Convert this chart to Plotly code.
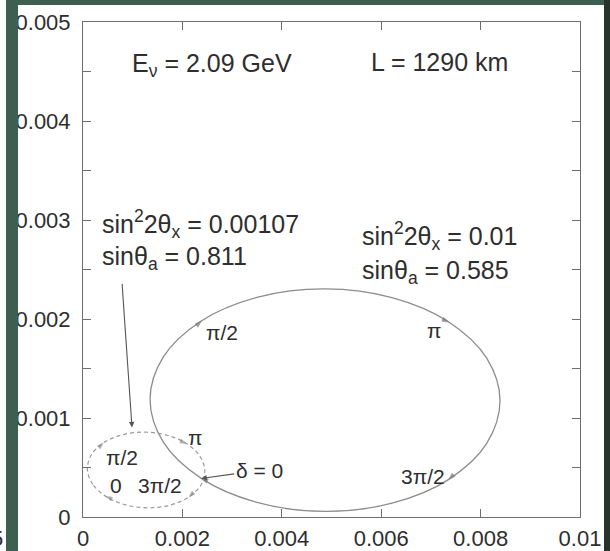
import plotly.graph_objects as go

# Appearance probabilities traced over the CP phase delta (units of 1e-3),
# sampled every pi/8 starting at delta = 0 and closing back on delta = 2*pi.
large_x = [2.380, 1.617, 1.349, 1.617, 2.380, 3.522, 4.870, 6.218, 7.360,
           8.123, 8.391, 8.123, 7.360, 6.218, 4.870, 3.522, 2.380]
large_y = [0.390, 0.756, 1.187, 1.617, 1.980, 2.221, 2.304, 2.216, 1.970,
           1.604, 1.173, 0.743, 0.380, 0.139, 0.056, 0.144, 0.390]
small_x = [0.470, 0.198, 0.089, 0.160, 0.400, 0.772, 1.221, 1.676, 2.070,
           2.342, 2.451, 2.380, 2.140, 1.768, 1.320, 0.864, 0.470]
small_y = [0.205, 0.329, 0.475, 0.621, 0.745, 0.828, 0.857, 0.828, 0.745,
           0.621, 0.475, 0.329, 0.205, 0.122, 0.093, 0.122, 0.205]

# indices of delta = 0, pi/2, pi, 3pi/2 in the sampled curves
phase_index = [16, 4, 8, 12]
phase_labels = ["0", "π/2", "π", "3π/2"]

x_ticks = [0, 0.002, 0.004, 0.006, 0.008, 0.01]
x_tick_labels = ["0", "0.002", "0.004", "0.006", "0.008", "0.01"]
y_ticks = [0, 0.001, 0.002, 0.003, 0.004, 0.005]
y_tick_labels = ["0", "0.001", "0.002", "0.003", "0.004", "0.005"]
y_minor_ticks = [0.0005, 0.0015, 0.0025, 0.0035, 0.0045]

SCALE = 1e-3
FONT = "Liberation Sans, Arial, Helvetica, sans-serif"
TEXT = "#2e2e2e"
AXIS = "#6e6e6e"

W, H = 610, 551
L, R, T, B = 83, 30, 22, 34
PW, PH = W - L - R, H - T - B


def px(xp):
    return (xp - L) / PW


def py(yp):
    return (H - B - yp) / PH


def marker_sizes(n, size):
    s = [0] * n
    for i in phase_index:
        s[i] = size
    return s


fig = go.Figure()

fig.add_trace(go.Scatter(
    x=[v * SCALE for v in large_x], y=[v * SCALE for v in large_y],
    mode="lines+markers", line=dict(color="#8c8c8c", width=1.3, shape="spline"),
    marker=dict(symbol="arrow", angleref="previous", color="#707070",
                size=marker_sizes(len(large_x), 7)),
    showlegend=False, hoverinfo="skip"))

fig.add_trace(go.Scatter(
    x=[v * SCALE for v in small_x], y=[v * SCALE for v in small_y],
    mode="lines+markers",
    line=dict(color="#9a9a9a", width=1.2, shape="spline", dash="4px,3px"),
    marker=dict(symbol="arrow", angleref="previous", color="#808080",
                size=marker_sizes(len(small_x), 6)),
    showlegend=False, hoverinfo="skip"))

annotations = []

# phase labels next to the marked points
large_shift = {"π/2": (21, -12), "π": (-14, -9), "3π/2": (-26, 3)}
small_shift = {"0": (10, 11), "π/2": (19, -14), "π": (10, 6), "3π/2": (-29, 11)}
for lab, i in zip(phase_labels, phase_index):
    if lab in large_shift:
        dx, dy = large_shift[lab]
        annotations.append(dict(x=large_x[i] * SCALE, y=large_y[i] * SCALE,
                                text=lab, showarrow=False, xshift=dx, yshift=dy,
                                font=dict(size=21, color=TEXT, family=FONT)))
    dx, dy = small_shift[lab]
    annotations.append(dict(x=small_x[i] * SCALE, y=small_y[i] * SCALE,
                            text=lab, showarrow=False, xshift=dx, yshift=dy,
                            font=dict(size=21, color=TEXT, family=FONT)))

# delta = 0 pointer on the large curve
annotations.append(dict(x=large_x[0] * SCALE, y=large_y[0] * SCALE,
                        text="δ = 0", showarrow=True, ax=58, ay=-8,
                        arrowhead=2, arrowsize=1, arrowwidth=1.1, arrowcolor="#555",
                        font=dict(size=21, color=TEXT, family=FONT)))

# pointer from the first parameter set down to the small curve
annotations.append(dict(x=0.986 * SCALE, y=0.905 * SCALE, text="",
                        showarrow=True, ax=-10, ay=-145,
                        arrowhead=2, arrowsize=1, arrowwidth=1.1, arrowcolor="#555"))

big = dict(size=25, color=TEXT, family=FONT)
for text, xl, yc in [
    ("E<sub>ν</sub> = 2.09 GeV", 130, 65),
    ("L = 1290 km", 369, 62),
    ("sin<sup>2</sup>2θ<sub>x</sub> = 0.00107", 100, 224),
    ("sinθ<sub>a</sub> = 0.811", 100, 258),
    ("sin<sup>2</sup>2θ<sub>x</sub> = 0.01", 360, 236),
    ("sinθ<sub>a</sub> = 0.585", 360, 272),
]:
    annotations.append(dict(xref="paper", yref="paper", x=px(xl), y=py(yc),
                            xanchor="left", yanchor="middle", text=text,
                            showarrow=False, font=big))

# clipped glyph at the lower-left edge
annotations.append(dict(xref="paper", yref="paper", x=px(5), y=py(538),
                        xanchor="right", yanchor="middle", text="5",
                        showarrow=False, font=dict(size=22, color=TEXT, family=FONT)))

# dark frame strips around the slide
GREEN = "#3c5f51"
shapes = [
    dict(type="rect", xref="paper", yref="paper", layer="above",
         x0=px(6), x1=px(18), y0=py(H + 5), y1=py(-5),
         fillcolor=GREEN, line=dict(width=0)),
    dict(type="rect", xref="paper", yref="paper", layer="above",
         x0=px(6), x1=px(W + 5), y0=py(5), y1=py(-5),
         fillcolor=GREEN, line=dict(width=0)),
    dict(type="rect", xref="paper", yref="paper", layer="above",
         x0=px(604), x1=px(W + 5), y0=py(H + 5), y1=py(-5),
         fillcolor="#26342b", line=dict(width=0)),
]

axis_common = dict(showline=True, linecolor=AXIS, linewidth=1, mirror="ticks",
                   ticks="inside", ticklen=8, tickcolor=AXIS, tickwidth=1,
                   showgrid=False, zeroline=False, automargin=False,
                   tickfont=dict(size=22, color=TEXT, family=FONT))

fig.update_layout(
    width=W, height=H,
    margin=dict(l=L, r=R, t=T, b=B, pad=0, autoexpand=False),
    paper_bgcolor="white", plot_bgcolor="white",
    xaxis=dict(range=[0, 0.01], tickmode="array", tickvals=x_ticks,
               ticktext=x_tick_labels, ticklabelstandoff=2, **axis_common),
    yaxis=dict(range=[0, 0.005], tickmode="array", tickvals=y_ticks,
               ticktext=y_tick_labels, ticklabelstandoff=7,
               minor=dict(tickmode="array", tickvals=y_minor_ticks, ticks="inside",
                          ticklen=8, tickcolor=AXIS, showgrid=False),
               **axis_common),
    annotations=annotations,
    shapes=shapes,
)

fig.write_html("out.html")
